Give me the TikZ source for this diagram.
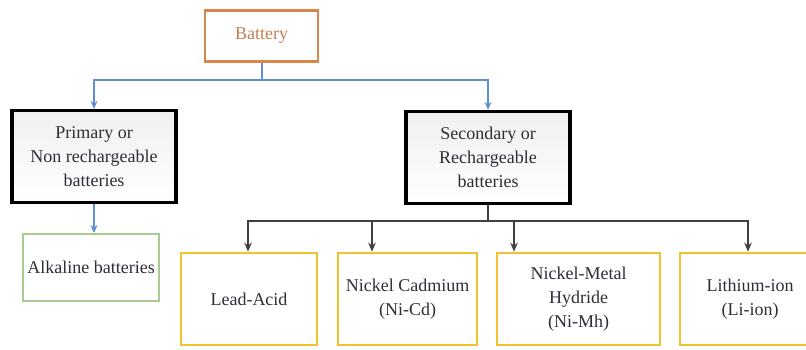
\documentclass[tikz,border=0pt]{standalone}
\usepackage{fontspec}
\setmainfont{Liberation Serif}
\usetikzlibrary{arrows.meta,positioning,calc}
\definecolor{batorange}{HTML}{D9884A}
\definecolor{battext}{HTML}{C47E52}
\definecolor{linkblue}{HTML}{5F8FD6}
\definecolor{alkgreen}{HTML}{A8CC90}
\definecolor{cellyellow}{HTML}{F2C230}
\definecolor{txtgray}{HTML}{2E2E38}

\begin{document}
\begin{tikzpicture}[x=0.5pt, y=-0.5pt,
    box/.style={draw, align=center, inner sep=0pt, font=\fontsize{9}{12}\selectfont, text=txtgray},
    topbox/.style={box, draw=batorange, line width=1.3pt, text=battext, minimum width=56.5pt, minimum height=25.5pt},
    kindbox/.style={box, draw=black, line width=1.6pt, top color=gray!12, bottom color=white, minimum width=82pt, minimum height=46pt},
    alkbox/.style={box, draw=alkgreen, line width=1pt, minimum width=68pt, minimum height=33.5pt},
    cellbox/.style={box, draw=cellyellow, line width=1.4pt, minimum height=46pt},
    bluearr/.style={-{Stealth[length=4pt,width=3.5pt]}, draw=linkblue, line width=1pt},
    blkarr/.style={-{Stealth[length=4.5pt,width=3.8pt]}, draw=black!75, line width=0.8pt}
]
\useasboundingbox (0,0) rectangle (806,349);

\node[topbox] (bat) at (261.5,36) {Battery};
\node[kindbox] (prim) at (94,156.5) {Primary or\\Non rechargeable\\batteries};
\node[kindbox] (sec) at (488,157.5) {Secondary or\\Rechargeable\\batteries};
\node[alkbox] (alk) at (91,267.5) {Alkaline batteries};
\node[cellbox, minimum width=68pt] (lead) at (249,299) {Lead-Acid};
\node[cellbox, minimum width=69.5pt] (nicd) at (407.5,299) {Nickel Cadmium\\(Ni-Cd)};
\node[cellbox, minimum width=81.5pt] (nimh) at (578.5,299) {Nickel-Metal\\Hydride\\(Ni-Mh)};
\node[cellbox, minimum width=70pt] (lion) at (750,299) {Lithium-ion\\(Li-ion)};

\draw[bluearr] (bat.south) -- ++(0,17) -| (prim.north);
\draw[bluearr] (bat.south) -- ++(0,17) -| (sec.north);
\draw[bluearr] (prim.south) -- (prim.south |- alk.north);
% arrows into the cells do not hit their centres
\foreach \c/\dx in {lead/-0.5pt, nicd/-17.75pt, nimh/-32.25pt, lion/-1pt}
    \draw[blkarr] (sec.south) -- ++(0,16) -| ([xshift=\dx]\c.north);
\end{tikzpicture}
\end{document}
